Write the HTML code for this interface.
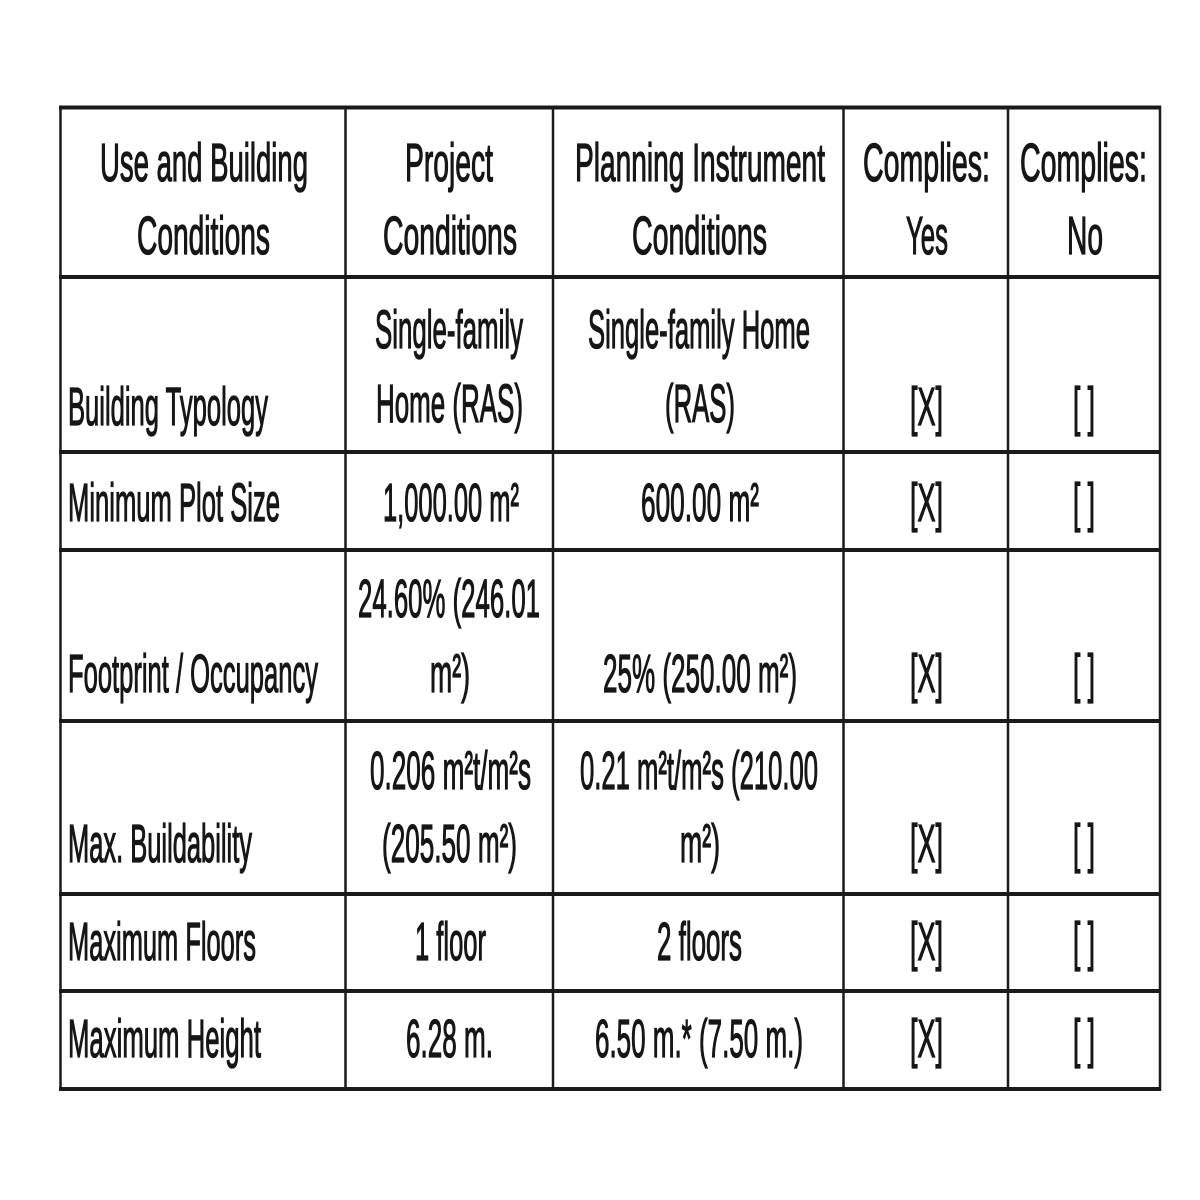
<!DOCTYPE html>
<html><head><meta charset="utf-8"><style>
html,body{margin:0;padding:0;background:#fff;width:1200px;height:1200px;overflow:hidden}
svg text{font-family:"Liberation Sans",Arial,sans-serif;font-size:54px;fill:#161616;stroke:#161616;stroke-width:1.3px}
</style></head><body>
<svg width="1200" height="1200" viewBox="0 0 1200 1200" xmlns="http://www.w3.org/2000/svg">
<rect width="1200" height="1200" fill="#fff"/>
<g stroke="#1a1a1a" fill="none">
<line x1="59" y1="107.5" x2="1161" y2="107.5" stroke-width="4"/>
<line x1="59" y1="277" x2="1161" y2="277" stroke-width="4"/>
<line x1="59" y1="452" x2="1161" y2="452" stroke-width="4"/>
<line x1="59" y1="550" x2="1161" y2="550" stroke-width="4"/>
<line x1="59" y1="721" x2="1161" y2="721" stroke-width="4"/>
<line x1="59" y1="894" x2="1161" y2="894" stroke-width="4"/>
<line x1="59" y1="991" x2="1161" y2="991" stroke-width="4"/>
<line x1="59" y1="1089" x2="1161" y2="1089" stroke-width="4"/>
<line x1="60.5" y1="106" x2="60.5" y2="1091" stroke-width="2.5"/>
<line x1="345.5" y1="106" x2="345.5" y2="1091" stroke-width="2.5"/>
<line x1="553" y1="106" x2="553" y2="1091" stroke-width="2.5"/>
<line x1="843.5" y1="106" x2="843.5" y2="1091" stroke-width="2.5"/>
<line x1="1008" y1="106" x2="1008" y2="1091" stroke-width="2.5"/>
<line x1="1160" y1="106" x2="1160" y2="1091" stroke-width="2.5"/>
</g>
<g>
<text x="100" y="181" textLength="208" lengthAdjust="spacingAndGlyphs">Use and Building</text>
<text x="137" y="254" textLength="133" lengthAdjust="spacingAndGlyphs">Conditions</text>
<text x="405" y="181" textLength="88" lengthAdjust="spacingAndGlyphs">Project</text>
<text x="383" y="254" textLength="134" lengthAdjust="spacingAndGlyphs">Conditions</text>
<text x="575" y="181" textLength="250" lengthAdjust="spacingAndGlyphs">Planning Instrument</text>
<text x="632" y="254" textLength="135" lengthAdjust="spacingAndGlyphs">Conditions</text>
<text x="863" y="181" textLength="127" lengthAdjust="spacingAndGlyphs">Complies:</text>
<text x="906" y="254" textLength="42" lengthAdjust="spacingAndGlyphs">Yes</text>
<text x="1020" y="181" textLength="127" lengthAdjust="spacingAndGlyphs">Complies:</text>
<text x="1067" y="254" textLength="36" lengthAdjust="spacingAndGlyphs">No</text>

<text x="68" y="425" textLength="200" lengthAdjust="spacingAndGlyphs">Building Typology</text>
<text x="375" y="348" textLength="148" lengthAdjust="spacingAndGlyphs">Single-family</text>
<text x="376" y="422" textLength="147" lengthAdjust="spacingAndGlyphs">Home (RAS)</text>
<text x="588" y="348" textLength="222" lengthAdjust="spacingAndGlyphs">Single-family Home</text>
<text x="665" y="422" textLength="70" lengthAdjust="spacingAndGlyphs">(RAS)</text>
<text x="910" y="425" textLength="33" lengthAdjust="spacingAndGlyphs">[X]</text>
<text x="1073" y="425" textLength="22" lengthAdjust="spacingAndGlyphs">[ ]</text>

<text x="68" y="521" textLength="212" lengthAdjust="spacingAndGlyphs">Minimum Plot Size</text>
<text x="383" y="521" textLength="136" lengthAdjust="spacingAndGlyphs">1,000.00 m²</text>
<text x="641" y="521" textLength="118" lengthAdjust="spacingAndGlyphs">600.00 m²</text>
<text x="910" y="521" textLength="33" lengthAdjust="spacingAndGlyphs">[X]</text>
<text x="1073" y="521" textLength="22" lengthAdjust="spacingAndGlyphs">[ ]</text>

<text x="68" y="692" textLength="250" lengthAdjust="spacingAndGlyphs">Footprint / Occupancy</text>
<text x="358" y="617" textLength="182" lengthAdjust="spacingAndGlyphs">24.60% (246.01</text>
<text x="430" y="692" textLength="40" lengthAdjust="spacingAndGlyphs">m²)</text>
<text x="603" y="692" textLength="194" lengthAdjust="spacingAndGlyphs">25% (250.00 m²)</text>
<text x="910" y="692" textLength="33" lengthAdjust="spacingAndGlyphs">[X]</text>
<text x="1073" y="692" textLength="22" lengthAdjust="spacingAndGlyphs">[ ]</text>

<text x="68" y="862" textLength="184" lengthAdjust="spacingAndGlyphs">Max. Buildability</text>
<text x="370" y="789" textLength="161" lengthAdjust="spacingAndGlyphs">0.206 m²t/m²s</text>
<text x="382" y="862" textLength="135" lengthAdjust="spacingAndGlyphs">(205.50 m²)</text>
<text x="580" y="789" textLength="238" lengthAdjust="spacingAndGlyphs">0.21 m²t/m²s (210.00</text>
<text x="680" y="862" textLength="40" lengthAdjust="spacingAndGlyphs">m²)</text>
<text x="910" y="862" textLength="33" lengthAdjust="spacingAndGlyphs">[X]</text>
<text x="1073" y="862" textLength="22" lengthAdjust="spacingAndGlyphs">[ ]</text>

<text x="68" y="960" textLength="188" lengthAdjust="spacingAndGlyphs">Maximum Floors</text>
<text x="415" y="960" textLength="71" lengthAdjust="spacingAndGlyphs">1 floor</text>
<text x="657" y="960" textLength="85" lengthAdjust="spacingAndGlyphs">2 floors</text>
<text x="910" y="960" textLength="33" lengthAdjust="spacingAndGlyphs">[X]</text>
<text x="1073" y="960" textLength="22" lengthAdjust="spacingAndGlyphs">[ ]</text>

<text x="68" y="1057" textLength="193" lengthAdjust="spacingAndGlyphs">Maximum Height</text>
<text x="406" y="1057" textLength="87" lengthAdjust="spacingAndGlyphs">6.28 m.</text>
<text x="595" y="1057" textLength="208" lengthAdjust="spacingAndGlyphs">6.50 m.* (7.50 m.)</text>
<text x="910" y="1057" textLength="33" lengthAdjust="spacingAndGlyphs">[X]</text>
<text x="1073" y="1057" textLength="22" lengthAdjust="spacingAndGlyphs">[ ]</text>
</g>
</svg>
</body></html>
